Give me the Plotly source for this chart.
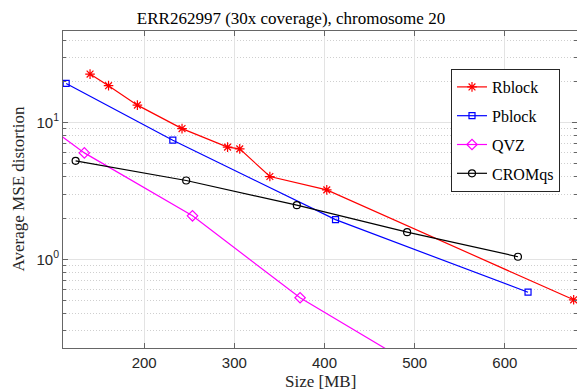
import plotly.graph_objects as go

# ---- data ----
rblock_x = [140, 160.5, 192.5, 242, 292.5, 306, 339.4, 402.5, 676.3]
rblock_y = [22.6, 18.6, 13.4, 9.03, 6.61, 6.42, 4.03, 3.22, 0.506]

pblock_x = [113.5, 231.8, 412.2, 625.7]
pblock_y = [19.3, 7.43, 1.95, 0.575]

qvz_x = [100, 133.7, 253.6, 372.9, 500]
qvz_y = [8.7, 6.0, 2.08, 0.524, 0.166]

cromqs_x = [124, 246.6, 369.3, 491.6, 614.5]
cromqs_y = [5.25, 3.77, 2.49, 1.58, 1.045]

x_ticks = [200, 300, 400, 500, 600]
y_ticks = [1, 10]
y_ticktext = ["10<sup>0</sup>", "10<sup>1</sup>"]
y_minor = [0.3, 0.4, 0.5, 0.6, 0.7, 0.8, 0.9, 2, 3, 4, 5, 6, 7, 8, 9, 20, 30, 40]

title_text = "ERR262997 (30x coverage), chromosome 20"
x_label = "Size [MB]"
y_label = "Average MSE distortion"

SERIF = "Liberation Serif"
SANS = "Liberation Sans"

fig = go.Figure()

series = [
    ("Rblock", rblock_x, rblock_y, "#ff0000", "asterisk-open", 8),
    ("Pblock", pblock_x, pblock_y, "#0000ff", "square-open", 6),
    ("QVZ", qvz_x, qvz_y, "#ff00ff", "diamond-open", 8),
    ("CROMqs", cromqs_x, cromqs_y, "#000000", "circle-open", 7),
]
for i, (name, xs, ys, col, sym, sz) in enumerate(series):
    fig.add_trace(go.Scatter(
        x=xs, y=ys, name=name, mode="lines+markers",
        line=dict(color=col, width=1.2),
        marker=dict(symbol=sym, size=sz, color=col, line=dict(color=col, width=1.2)),
        legendgroup=f"g{i}",
        cliponaxis=True,
    ))

axis_col = "#666666"
fig.update_layout(
    width=577, height=389,
    margin=dict(l=63, r=0, t=31, b=41),
    plot_bgcolor="white", paper_bgcolor="white",
    showlegend=True,
    title=dict(text=title_text, x=(291 - 63) / (577 - 63), xref="paper", xanchor="center",
               y=1 - 18 / 389, yref="container", yanchor="middle",
               font=dict(family=SERIF, size=17, color="#000000")),
    legend=dict(
        x=(451 - 63) / (577 - 63), y=(348 - 69) / (348 - 31), xanchor="left", yanchor="top",
        bgcolor="white", bordercolor="#262626", borderwidth=1,
        font=dict(family=SERIF, size=16, color="#000000"),
        traceorder="grouped", tracegroupgap=5,
    ),
    xaxis=dict(
        range=[110, 680], tickvals=x_ticks,
        showgrid=True, gridcolor="#e3e3e3", gridwidth=1,
        ticks="inside", ticklen=5, tickcolor=axis_col,
        showline=True, linecolor=axis_col, linewidth=1, mirror="ticks",
        zeroline=False, ticklabelstandoff=1,
        tickfont=dict(family=SANS, size=15, color="#262626"),
    ),
    yaxis=dict(
        type="log", range=[-0.648, 1.669],
        tickvals=y_ticks, ticktext=y_ticktext,
        showgrid=True, gridcolor="#e3e3e3", gridwidth=1,
        ticks="inside", ticklen=5, tickcolor=axis_col,
        showline=True, linecolor=axis_col, linewidth=1, mirror="ticks",
        zeroline=False,
        tickfont=dict(family=SANS, size=15, color="#262626"),
        minor=dict(tickvals=y_minor, showgrid=True, gridcolor="#cfcfcf",
                   griddash="1px,2px", gridwidth=1, ticks="inside", ticklen=3,
                   tickcolor=axis_col),
    ),
    annotations=[
        dict(text=x_label, xref="paper", yref="paper", x=0.5, y=0, yshift=-33,
             xanchor="center", yanchor="middle", showarrow=False,
             font=dict(family=SERIF, size=17, color="#262626")),
        dict(text=y_label, xref="paper", yref="paper", x=0, y=0.5, xshift=-45,
             xanchor="center", yanchor="middle", showarrow=False, textangle=-90,
             font=dict(family=SERIF, size=17, color="#262626")),
    ],
)

fig.write_html("out.html", config={"displayModeBar": False},
               post_script="document.body.style.margin='0';")
